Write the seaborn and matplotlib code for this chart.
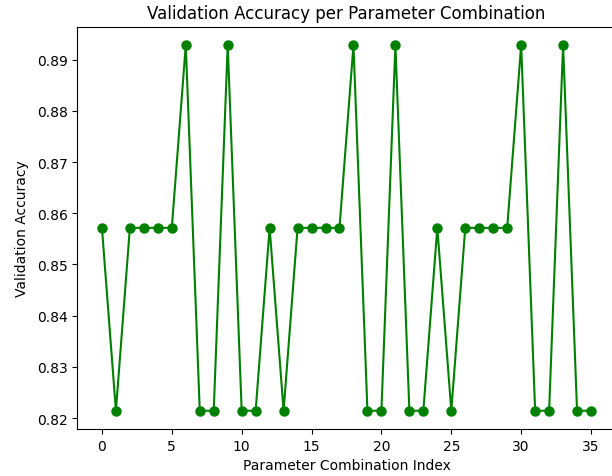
import matplotlib
matplotlib.use("Agg")
import matplotlib.pyplot as plt
import seaborn as sns
import pandas as pd

indices = list(range(36))
accuracy = [
    0.857143, 0.821429, 0.857143, 0.857143, 0.857143, 0.857143,
    0.892857, 0.821429, 0.821429, 0.892857, 0.821429, 0.821429,
    0.857143, 0.821429, 0.857143, 0.857143, 0.857143, 0.857143,
    0.892857, 0.821429, 0.821429, 0.892857, 0.821429, 0.821429,
    0.857143, 0.821429, 0.857143, 0.857143, 0.857143, 0.857143,
    0.892857, 0.821429, 0.821429, 0.892857, 0.821429, 0.821429,
]

df = pd.DataFrame({"idx": indices, "acc": accuracy})

fig = plt.figure(figsize=(6.12, 4.77), dpi=100)
ax = fig.add_axes([0.1266, 0.0985, 1.0057 - 0.1266, 0.942 - 0.0985])
sns.lineplot(data=df, x="idx", y="acc", ax=ax, color="green", marker="o",
             markersize=6.5, markeredgecolor="green", markeredgewidth=1, linewidth=1.5)
ax.set_title("Validation Accuracy per Parameter Combination", fontsize=12)
ax.set_xlabel("Parameter Combination Index")
ax.set_ylabel("Validation Accuracy", labelpad=6)
ax.set_xticks([0, 5, 10, 15, 20, 25, 30, 35])
ax.set_yticks([0.82, 0.83, 0.84, 0.85, 0.86, 0.87, 0.88, 0.89])
fig.savefig("out.png", dpi=100)
